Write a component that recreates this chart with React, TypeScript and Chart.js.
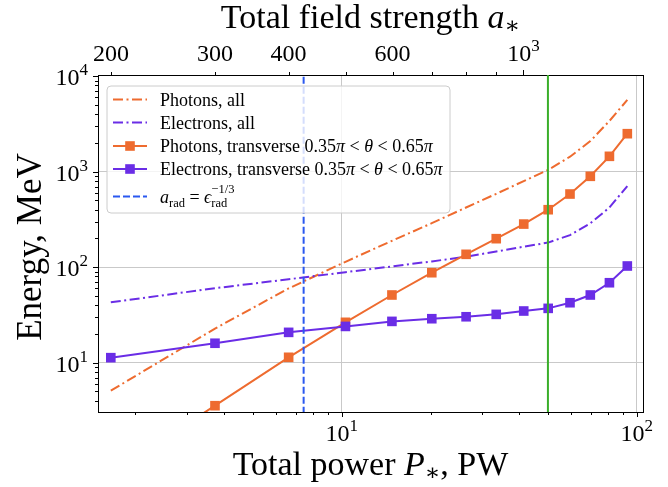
import React, { useEffect, useRef } from 'react';
import { Chart, registerables } from 'chart.js';

Chart.register(...registerables);

// ---------------- data ----------------
const totalPower = [1.65, 3.72, 6.61, 10.3, 14.8, 20.2, 26.4, 33.4, 41.4, 50.1, 59.4, 69.6, 80.8, 92.9];
const photonsAll = [5.1, 22.8, 60, 114, 189, 289, 422, 587, 798, 1045, 1435, 2090, 3400, 5640];
const electronsAll = [42.9, 60.3, 74.8, 88.7, 102, 115, 129, 146, 164, 181, 217, 288, 422, 708];
const photonsTransverse = [0.7, 3.55, 11.4, 26.5, 51.2, 87.6, 136.5, 199, 283, 400, 584, 895, 1449, 2500];
const electronsTransverse = [11.3, 16.0, 20.8, 24.0, 27.1, 28.9, 30.3, 32.1, 34.8, 37.1, 42.5, 51.2, 68.8, 103];
const radiationThresholdPower = 7.43;
const greenMarkerPower = 50;

const powerRange = [1.493, 105.0];
const energyRange = [3.05, 10290];
const fieldPerSqrtPower = 155.6; // a* = k * sqrt(P*)

const powerMajorTicks = [10, 100];
const powerMinorTicks = [2, 3, 4, 5, 6, 7, 8, 9, 20, 30, 40, 50, 60, 70, 80, 90];
const energyMajorTicks = [10, 100, 1000, 10000];
const energyMinorTicks = [3, 4, 5, 6, 7, 8, 9, 20, 30, 40, 50, 60, 70, 80, 90, 200, 300, 400, 500, 600, 700, 800, 900, 2000, 3000, 4000, 5000, 6000, 7000, 8000, 9000];
const fieldMinorTicks = [200, 300, 400, 500, 600, 700, 800, 900];
const fieldMinorLabels = ['200', '300', '400', '', '600', '', '', ''];
const fieldMajorTicks = [1000];

// ---------------- style ----------------
const ORANGE = '#ee6b2f';
const PURPLE = '#6a2de6';
const BLUE = '#2a58f0';
const GREEN = '#3aae2a';
const GRID = '#c9c9c9';
const FAMILY = '"Liberation Serif", "DejaVu Serif", serif';
const DASHDOT = [10, 3.5, 2, 3.5];
const DASHED = [7, 3];

type Run = { t: string; size: number; italic?: boolean; dy?: number; sup?: string; sub?: string };

const fontOf = (size: number, italic?: boolean) => `${italic ? 'italic ' : ''}${size}px ${FAMILY}`;

function runWidth(ctx: CanvasRenderingContext2D, r: Run): number {
  if (r.sup !== undefined || r.sub !== undefined) {
    ctx.font = fontOf(r.size);
    return Math.max(ctx.measureText(r.sup || '').width, ctx.measureText(r.sub || '').width);
  }
  ctx.font = fontOf(r.size, r.italic);
  return ctx.measureText(r.t).width;
}

function drawRuns(ctx: CanvasRenderingContext2D, runs: Run[], x: number, y: number, align: 'left' | 'center' | 'right') {
  const widths = runs.map((r) => runWidth(ctx, r));
  const total = widths.reduce((a, b) => a + b, 0);
  let cx = align === 'left' ? x : align === 'center' ? x - total / 2 : x - total;
  ctx.textAlign = 'left';
  ctx.textBaseline = 'alphabetic';
  runs.forEach((r, i) => {
    if (r.sup !== undefined || r.sub !== undefined) {
      ctx.font = fontOf(r.size);
      if (r.sup) ctx.fillText(r.sup, cx, y - r.size * 0.75);
      if (r.sub) ctx.fillText(r.sub, cx, y + r.size * 0.35);
    } else {
      ctx.font = fontOf(r.size, r.italic);
      ctx.fillText(r.t, cx, y + (r.dy || 0));
    }
    cx += widths[i];
  });
}

const pow10 = (e: number, size: number): Run[] => [
  { t: '10', size },
  { t: String(e), size: Math.round(size * 0.7), dy: -size * 0.42 },
];

function drawSquare(ctx: CanvasRenderingContext2D, x: number, y: number, color: string) {
  ctx.fillStyle = color;
  ctx.fillRect(x - 4.8, y - 4.8, 9.6, 9.6);
}

const overlayPlugin = {
  id: 'overlay',
  afterDraw(chart: any) {
    const ctx: CanvasRenderingContext2D = chart.ctx;
    const { left, right, top, bottom } = chart.chartArea;
    const sx = chart.scales.x;
    const sy = chart.scales.y;
    const st = chart.scales.x2;
    ctx.save();
    ctx.strokeStyle = '#000';
    ctx.fillStyle = '#000';
    ctx.lineWidth = 1;

    // right spine
    ctx.beginPath();
    ctx.moveTo(Math.round(right) + 0.5, top);
    ctx.lineTo(Math.round(right) + 0.5, bottom);
    ctx.stroke();

    const tick = (x1: number, y1: number, x2: number, y2: number) => {
      ctx.beginPath();
      ctx.moveTo(x1, y1);
      ctx.lineTo(x2, y2);
      ctx.stroke();
    };
    // bottom ticks
    powerMajorTicks.forEach((v) => {
      const px = Math.round(sx.getPixelForValue(v)) + 0.5;
      tick(px, bottom, px, bottom + 5);
    });
    powerMinorTicks.forEach((v) => {
      if (v < powerRange[0] || v > powerRange[1]) return;
      const px = Math.round(sx.getPixelForValue(v)) + 0.5;
      tick(px, bottom, px, bottom + 3);
    });
    // left ticks
    energyMajorTicks.forEach((v) => {
      const py = Math.round(sy.getPixelForValue(v)) + 0.5;
      tick(left, py, left - 5, py);
    });
    energyMinorTicks.forEach((v) => {
      if (v < energyRange[0] || v > energyRange[1]) return;
      const py = Math.round(sy.getPixelForValue(v)) + 0.5;
      tick(left, py, left - 3, py);
    });
    // top ticks
    fieldMajorTicks.forEach((v) => {
      const px = Math.round(st.getPixelForValue(v)) + 0.5;
      tick(px, top, px, top - 5);
    });
    fieldMinorTicks.forEach((v) => {
      const px = Math.round(st.getPixelForValue(v)) + 0.5;
      tick(px, top, px, top - 3);
    });

    // tick labels
    energyMajorTicks.forEach((v) => {
      const py = sy.getPixelForValue(v);
      drawRuns(ctx, pow10(Math.round(Math.log10(v)), 24), left - 10, py + 9, 'right');
    });
    powerMajorTicks.forEach((v) => {
      const px = sx.getPixelForValue(v);
      drawRuns(ctx, pow10(Math.round(Math.log10(v)), 24), px, bottom + 29, 'center');
    });
    fieldMinorTicks.forEach((v, i) => {
      if (!fieldMinorLabels[i]) return;
      const px = st.getPixelForValue(v);
      drawRuns(ctx, [{ t: fieldMinorLabels[i], size: 24 }], px, top - 14, 'center');
    });
    fieldMajorTicks.forEach((v) => {
      const px = st.getPixelForValue(v);
      drawRuns(ctx, pow10(Math.round(Math.log10(v)), 24), px, top - 14, 'center');
    });

    // axis titles
    const midX = (left + right) / 2;
    drawRuns(ctx, [
      { t: 'Total power ', size: 34 },
      { t: 'P', size: 34, italic: true },
      { t: '∗', size: 23, dy: 5 },
      { t: ', PW', size: 34 },
    ], midX, 475, 'center');
    drawRuns(ctx, [
      { t: 'Total field strength ', size: 34 },
      { t: 'a', size: 34, italic: true },
      { t: '∗', size: 23, dy: 5 },
    ], midX, 28, 'center');
    ctx.save();
    ctx.translate(41, 247);
    ctx.rotate(-Math.PI / 2);
    drawRuns(ctx, [{ t: 'Energy, MeV', size: 35 }], 0, 0, 'center');
    ctx.restore();

    // legend
    const lx = 107, ly = 86, lw = 343, lh = 127, rr = 4;
    ctx.beginPath();
    ctx.moveTo(lx + rr, ly);
    ctx.lineTo(lx + lw - rr, ly);
    ctx.quadraticCurveTo(lx + lw, ly, lx + lw, ly + rr);
    ctx.lineTo(lx + lw, ly + lh - rr);
    ctx.quadraticCurveTo(lx + lw, ly + lh, lx + lw - rr, ly + lh);
    ctx.lineTo(lx + rr, ly + lh);
    ctx.quadraticCurveTo(lx, ly + lh, lx, ly + lh - rr);
    ctx.lineTo(lx, ly + rr);
    ctx.quadraticCurveTo(lx, ly, lx + rr, ly);
    ctx.closePath();
    ctx.fillStyle = 'rgba(255,255,255,0.8)';
    ctx.fill();
    ctx.strokeStyle = '#cccccc';
    ctx.stroke();

    const theta: Run[] = [
      { t: ' 0.35', size: 18 },
      { t: 'π', size: 18, italic: true },
      { t: ' < ', size: 18 },
      { t: 'θ', size: 18, italic: true },
      { t: ' < 0.65', size: 18 },
      { t: 'π', size: 18, italic: true },
    ];
    const entries = [
      { y: 99.5, color: ORANGE, dash: DASHDOT, marker: false, runs: [{ t: 'Photons, all', size: 18 }] as Run[] },
      { y: 122.5, color: PURPLE, dash: DASHDOT, marker: false, runs: [{ t: 'Electrons, all', size: 18 }] as Run[] },
      { y: 146, color: ORANGE, dash: [] as number[], marker: true, runs: [{ t: 'Photons, transverse', size: 18 }, ...theta] },
      { y: 169, color: PURPLE, dash: [] as number[], marker: true, runs: [{ t: 'Electrons, transverse', size: 18 }, ...theta] },
      {
        y: 196.5, color: BLUE, dash: DASHED, marker: false, runs: [
          { t: 'a', size: 18, italic: true },
          { t: 'rad', size: 12.5, dy: 4 },
          { t: ' = ', size: 18 },
          { t: 'ϵ', size: 18, italic: true },
          { t: '', size: 12.5, sup: '−1/3', sub: 'rad' },
        ] as Run[],
      },
    ];
    entries.forEach((e) => {
      ctx.save();
      ctx.strokeStyle = e.color;
      ctx.lineWidth = 2;
      ctx.setLineDash(e.dash);
      ctx.beginPath();
      ctx.moveTo(113, e.y);
      ctx.lineTo(147, e.y);
      ctx.stroke();
      ctx.restore();
      if (e.marker) drawSquare(ctx, 130, e.y, e.color);
      ctx.fillStyle = '#000';
      drawRuns(ctx, e.runs, 160, e.y + 6, 'left');
    });
    ctx.restore();
  },
};

export default function App() {
  const ref = useRef<HTMLCanvasElement | null>(null);

  useEffect(() => {
    document.body.style.margin = '0';
    const canvas = ref.current;
    if (!canvas) return;
    const pts = (ys: number[]) => totalPower.map((p, i) => ({ x: p, y: ys[i] }));
    const vline = (p: number) => [{ x: p, y: 0.1 }, { x: p, y: 1e6 }];

    const chart = new Chart(canvas, {
      type: 'line',
      data: {
        datasets: [
          { label: 'Photons, all', data: pts(photonsAll), borderColor: ORANGE, borderWidth: 2, borderDash: DASHDOT, pointRadius: 0, order: 0, clip: 0 },
          { label: 'Electrons, all', data: pts(electronsAll), borderColor: PURPLE, borderWidth: 2, borderDash: DASHDOT, pointRadius: 0, order: -1, clip: 0 },
          {
            label: 'Photons, transverse', data: pts(photonsTransverse), borderColor: ORANGE, borderWidth: 2,
            pointStyle: 'rect', pointRadius: 6.8, pointBackgroundColor: ORANGE, pointBorderColor: ORANGE, pointBorderWidth: 0, order: -2, clip: 0,
          },
          {
            label: 'Electrons, transverse', data: pts(electronsTransverse), borderColor: PURPLE, borderWidth: 2,
            pointStyle: 'rect', pointRadius: 6.8, pointBackgroundColor: PURPLE, pointBorderColor: PURPLE, pointBorderWidth: 0, order: -3, clip: 0,
          },
          { label: 'a_rad', data: vline(radiationThresholdPower), borderColor: BLUE, borderWidth: 2, borderDash: DASHED, pointRadius: 0, order: -4, clip: 0 },
          { label: 'green', data: vline(greenMarkerPower), borderColor: GREEN, borderWidth: 2, pointRadius: 0, order: -5, clip: 0 },
        ] as any,
      },
      options: {
        animation: false,
        responsive: false,
        events: [],
        layout: { padding: { left: 0, right: 25, top: 0, bottom: 0 } },
        plugins: { legend: { display: false }, tooltip: { enabled: false } },
        elements: { line: { tension: 0 } },
        scales: {
          x: {
            type: 'logarithmic', position: 'bottom', min: powerRange[0], max: powerRange[1],
            ticks: { display: false },
            grid: { color: GRID, lineWidth: 1, drawTicks: false },
            border: { display: true, color: '#000', width: 1 },
            afterBuildTicks: (s: any) => { s.ticks = powerMajorTicks.map((v) => ({ value: v })); },
            afterFit: (s: any) => { s.height = 75; },
          },
          x2: {
            type: 'logarithmic', position: 'top',
            min: fieldPerSqrtPower * Math.sqrt(powerRange[0]), max: fieldPerSqrtPower * Math.sqrt(powerRange[1]),
            ticks: { display: false },
            grid: { display: false, drawTicks: false },
            border: { display: true, color: '#000', width: 1 },
            afterFit: (s: any) => { s.height = 75; },
          },
          y: {
            type: 'logarithmic', position: 'left', min: energyRange[0], max: energyRange[1],
            ticks: { display: false },
            grid: { color: GRID, lineWidth: 1, drawTicks: false },
            border: { display: true, color: '#000', width: 1 },
            afterBuildTicks: (s: any) => { s.ticks = [10, 100, 1000].map((v) => ({ value: v })); },
            afterFit: (s: any) => { s.width = 98; },
          },
        },
      } as any,
      plugins: [overlayPlugin],
    });
    return () => chart.destroy();
  }, []);

  return (
    <div style={{ width: 668, height: 487, background: '#fff' }}>
      <canvas ref={ref} width={668} height={487} />
    </div>
  );
}
